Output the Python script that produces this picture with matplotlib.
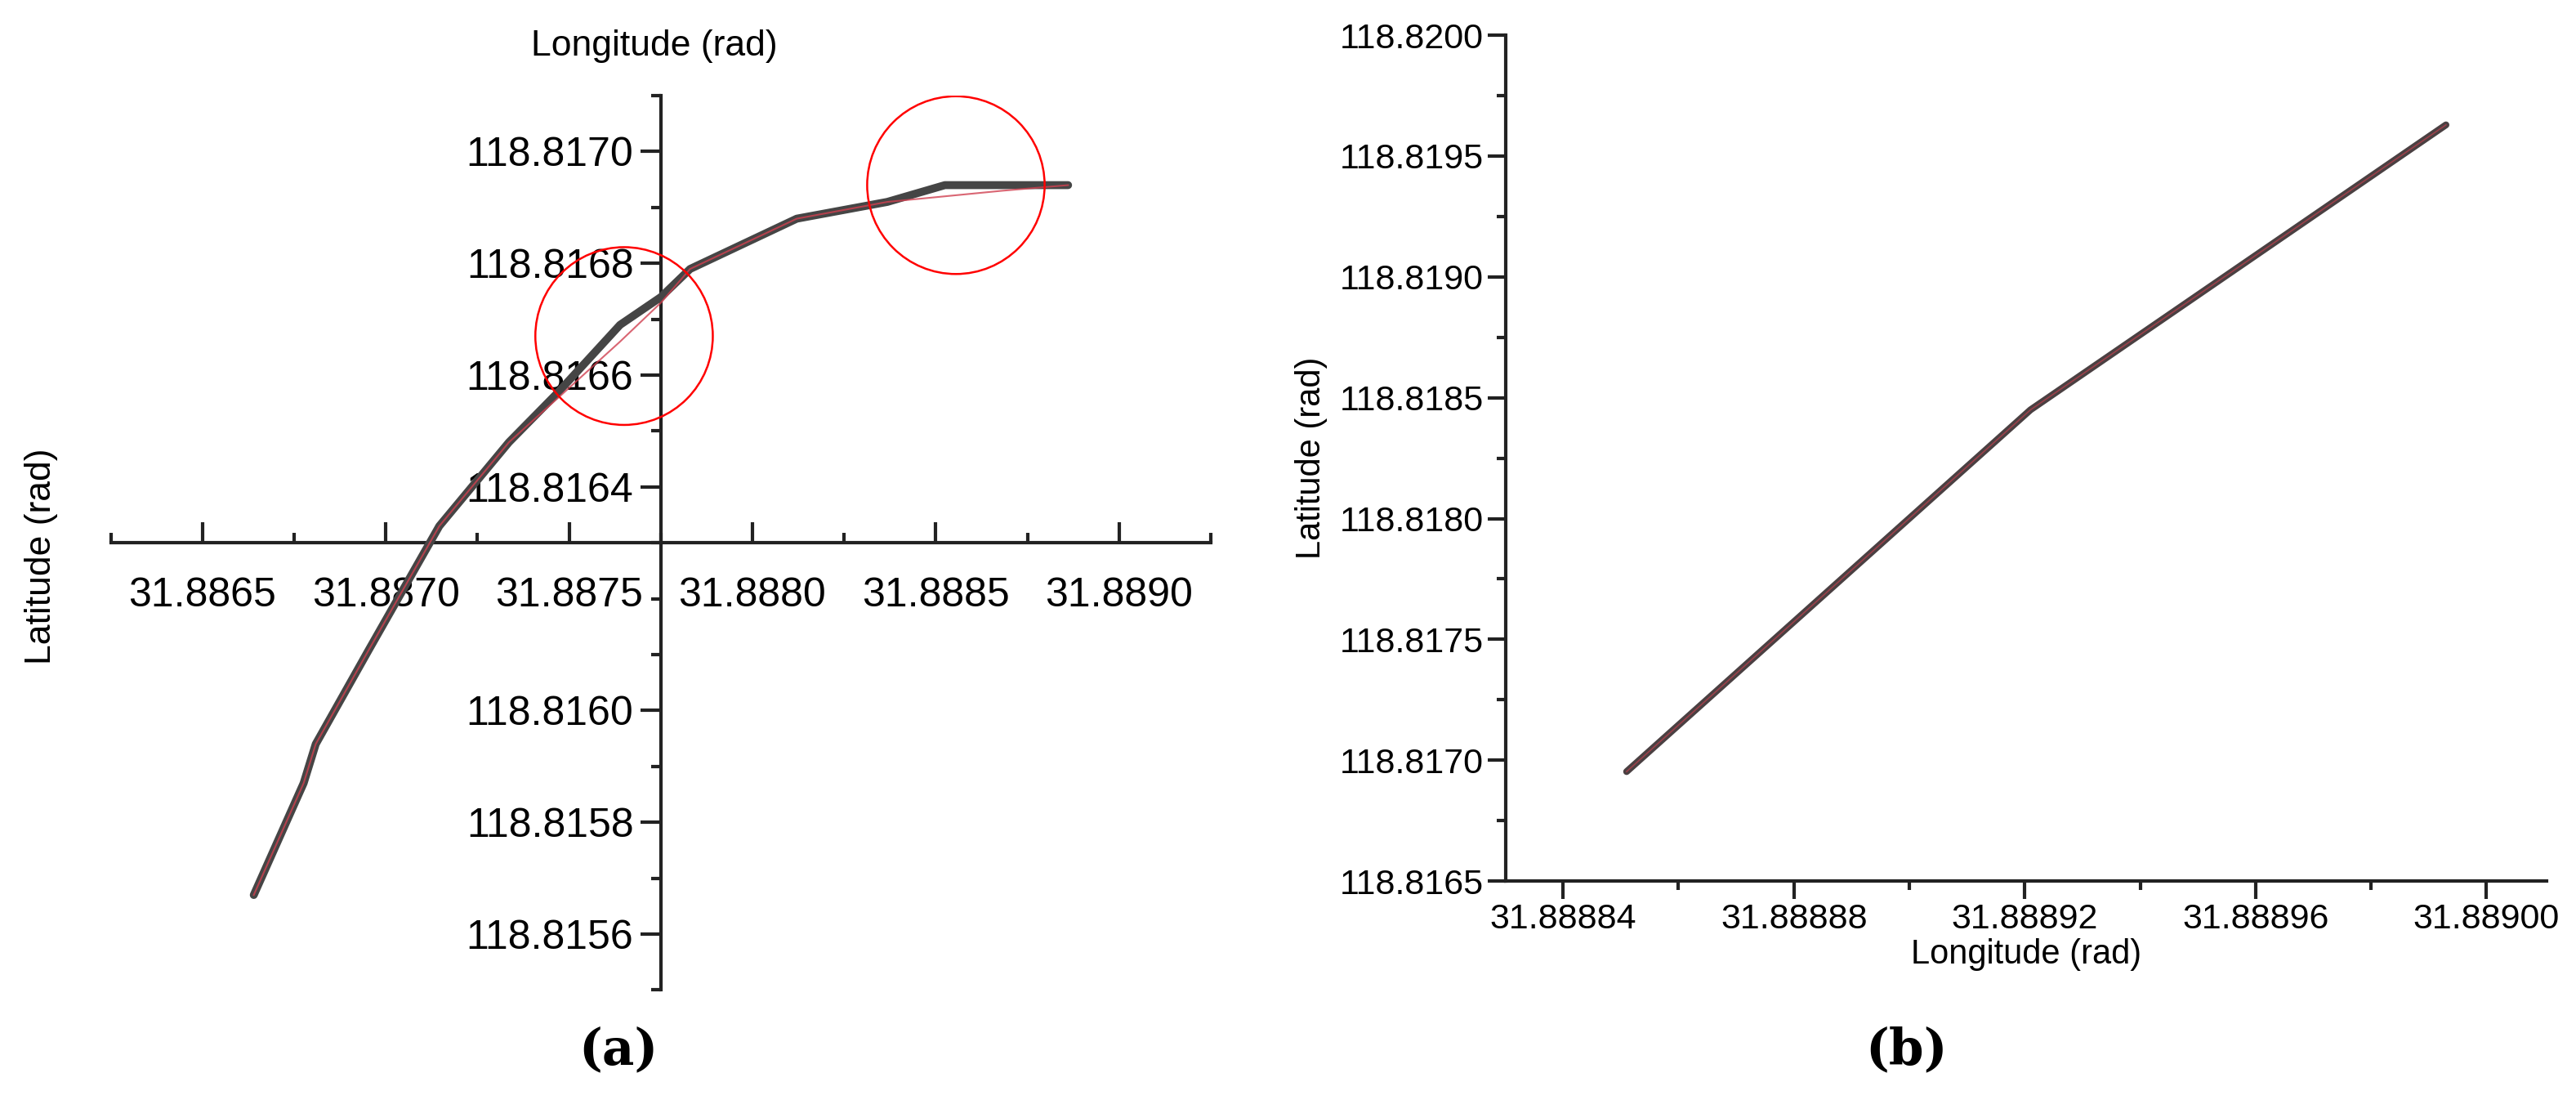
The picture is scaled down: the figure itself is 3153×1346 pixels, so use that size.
import matplotlib
matplotlib.use("Agg")
import matplotlib.pyplot as plt
from matplotlib.patches import Ellipse
from matplotlib.ticker import MultipleLocator, FormatStrFormatter

plt.rcParams['font.family'] = ['Liberation Sans', 'DejaVu Sans']

# Panel (a) data
lon_a = [31.88664, 31.886776, 31.886809, 31.886955, 31.887146, 31.887336, 31.887471,
         31.887639, 31.887751, 31.887830, 31.888121, 31.888368, 31.888525, 31.888682, 31.888861]
lat_a = [118.81567, 118.81587, 118.81594, 118.81611, 118.81633, 118.81648, 118.81657,
         118.81669, 118.81674, 118.81679, 118.81688, 118.81691, 118.81694, 118.81694, 118.81694]
lat_a_ref = [118.81567, 118.81587, 118.81594, 118.81611, 118.81633, 118.81648, 118.81656,
             118.81666, 118.81673, 118.81679, 118.81688, 118.81691, 118.81692, 118.81693, 118.81694]
circle_x = [31.88765, 31.888555]
circle_y = [118.81667, 118.81694]

# Panel (b) data
lon_b = [31.888851, 31.888921, 31.888993]
lat_b = [118.816953, 118.818450, 118.819629]

fig = plt.figure(figsize=(31.53, 13.46), dpi=100)

# ---- panel a ----
ax = fig.add_axes([0.043, 0.10, 0.427, 0.813])
ax.plot(lon_a, lat_a, color='#454545', lw=7, solid_capstyle='round', zorder=3)
ax.plot(lon_a, lat_a_ref, color='#d04050', lw=1.5, alpha=0.8, zorder=4)
for cx, cy in zip(circle_x, circle_y):
    ax.add_patch(Ellipse((cx, cy), 0.000484, 0.000318, fill=False, ec='red', lw=1.8, zorder=5))
ax.set_xlim(31.88625, 31.88925)
ax.set_ylim(118.81550, 118.81710)
ax.spines['left'].set_position(('data', 31.88775))
ax.spines['bottom'].set_position(('data', 118.8163))
ax.spines['right'].set_visible(False)
ax.spines['top'].set_visible(False)
for s in ['left', 'bottom']:
    ax.spines[s].set_linewidth(3)
    ax.spines[s].set_color('#222222')
ax.xaxis.set_major_locator(MultipleLocator(0.0005))
ax.xaxis.set_minor_locator(MultipleLocator(0.00025))
ax.yaxis.set_major_locator(MultipleLocator(0.0002))
ax.yaxis.set_minor_locator(MultipleLocator(0.0001))
ax.xaxis.set_major_formatter(FormatStrFormatter('%.4f'))
ax.yaxis.set_major_formatter(FormatStrFormatter('%.4f'))
ax.tick_params(axis='x', which='both', direction='in', width=3, color='#222222', labelsize=36, pad=30)
ax.tick_params(axis='x', which='major', length=18)
ax.tick_params(axis='x', which='minor', length=9)
ax.tick_params(axis='y', which='both', direction='out', width=3, color='#222222', labelsize=36, pad=6)
ax.tick_params(axis='y', which='major', length=18)
ax.tick_params(axis='y', which='minor', length=9)
ax.set_xticks([31.8865, 31.8870, 31.8875, 31.8880, 31.8885, 31.8890])
ax.set_yticks([118.8156, 118.8158, 118.8160, 118.8164, 118.8166, 118.8168, 118.8170])
ax.patch.set_alpha(0)
fig.text(0.254, 0.958, 'Longitude (rad)', fontsize=32, ha='center', va='center')
fig.text(0.016, 0.494, 'Latitude (rad)', fontsize=32, ha='center', va='center', rotation=90)
fig.text(0.24, 0.045, '(a)', fontsize=44, ha='center', va='center', family='DejaVu Serif', weight='bold')

# ---- panel b ----
bx = fig.add_axes([0.5844, 0.199, 0.4041, 0.769])
bx.plot(lon_b, lat_b, color='#4a4042', lw=6, solid_capstyle='round', zorder=3)
bx.plot(lon_b, lat_b, color='#d04050', lw=1.2, alpha=0.6, zorder=4)
bx.set_xlim(31.888830, 31.8890104)
bx.set_ylim(118.8165, 118.8200)
bx.spines['right'].set_visible(False)
bx.spines['top'].set_visible(False)
for s in ['left', 'bottom']:
    bx.spines[s].set_linewidth(3)
    bx.spines[s].set_color('#222222')
bx.xaxis.set_major_locator(MultipleLocator(0.00004))
bx.xaxis.set_minor_locator(MultipleLocator(0.00002))
bx.yaxis.set_major_locator(MultipleLocator(0.0005))
bx.yaxis.set_minor_locator(MultipleLocator(0.00025))
bx.xaxis.set_major_formatter(FormatStrFormatter('%.5f'))
bx.yaxis.set_major_formatter(FormatStrFormatter('%.4f'))
bx.tick_params(which='both', direction='out', width=3, color='#222222', labelsize=31)
bx.tick_params(which='major', length=16)
bx.tick_params(which='minor', length=8)
bx.set_xlabel('Longitude (rad)', fontsize=30, labelpad=2)
bx.set_ylabel('Latitude (rad)', fontsize=30, labelpad=10)
fig.text(0.74, 0.045, '(b)', fontsize=44, ha='center', va='center', family='DejaVu Serif', weight='bold')

fig.savefig('out.png', dpi=100)
